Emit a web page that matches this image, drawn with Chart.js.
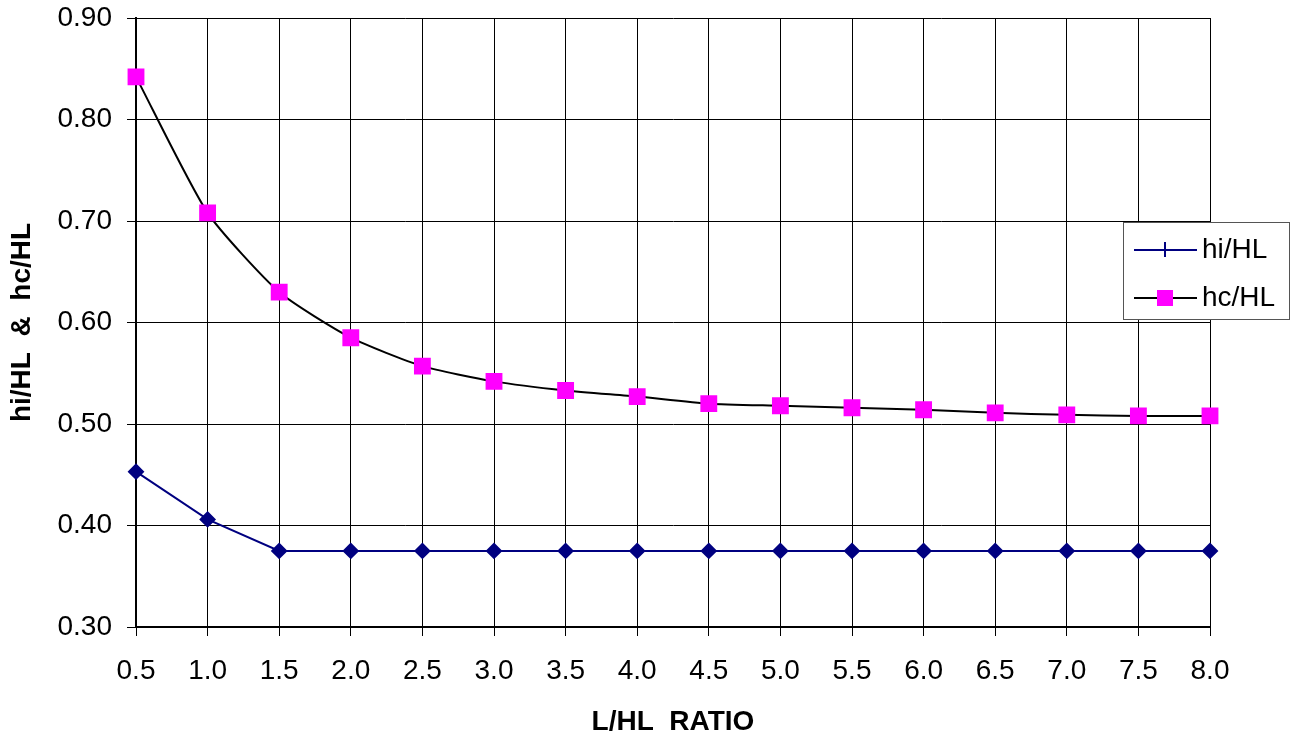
<!DOCTYPE html>
<html>
<head>
<meta charset="utf-8">
<script src="https://cdn.jsdelivr.net/npm/chart.js@4/dist/chart.umd.min.js"></script>
<style>
  body { margin: 0; background: #fff; }
  #wrap { width: 1292px; height: 736px; }
</style>
</head>
<body>
<div id="wrap"><canvas id="myChart" width="1292" height="736"></canvas></div>
<script>
// L/HL ratio
var ratios = [0.5, 1.0, 1.5, 2.0, 2.5, 3.0, 3.5, 4.0, 4.5, 5.0, 5.5, 6.0, 6.5, 7.0, 7.5, 8.0];
var hiValues = [0.453, 0.406, 0.375, 0.375, 0.375, 0.375, 0.375, 0.375, 0.375, 0.375, 0.375, 0.375, 0.375, 0.375, 0.375, 0.375];
var hcValues = [0.842, 0.708, 0.630, 0.585, 0.557, 0.542, 0.533, 0.527, 0.520, 0.518, 0.516, 0.514, 0.511, 0.509, 0.508, 0.508];
var yTicks = [0.30, 0.40, 0.50, 0.60, 0.70, 0.80, 0.90];

var font = "'Liberation Sans', Arial, sans-serif";

function toPoints(vals) {
  var pts = [];
  for (let i = 0; i < ratios.length; i++) {
    pts.push({ x: ratios[i], y: vals[i] });
  }
  return pts;
}

// legend drawn like the excel box, overlapping the right edge of the plot
const boxLegend = {
  id: "boxLegend",
  afterDraw(chart) {
    const c = chart.ctx;
    c.save();
    c.fillStyle = "#fff";
    c.fillRect(1123, 222, 167, 98);
    c.strokeStyle = "#555";
    c.lineWidth = 1;
    c.strokeRect(1123.5, 222.5, 166, 97);

    // hi/HL
    c.strokeStyle = "#000080";
    c.lineWidth = 2;
    c.beginPath();
    c.moveTo(1134, 250); c.lineTo(1197, 250);
    c.moveTo(1165, 242); c.lineTo(1165, 257);
    c.stroke();
    // hc/HL
    c.strokeStyle = "#000";
    c.beginPath();
    c.moveTo(1134, 298); c.lineTo(1197, 298);
    c.stroke();
    c.fillStyle = "#ff00ff";
    c.fillRect(1157, 290, 16, 16);

    c.fillStyle = "#000";
    c.font = "28px " + font;
    c.textBaseline = "middle";
    c.fillText("hi/HL", 1202, 250);
    c.fillText("hc/HL", 1202, 298);
    c.restore();
  }
};

const ctx = document.getElementById("myChart");

new Chart(ctx, {
  type: "line",
  data: {
    datasets: [
      {
        label: "hi/HL",
        data: toPoints(hiValues),
        borderColor: "#000080",
        backgroundColor: "#000080",
        borderWidth: 2,
        pointStyle: "rectRot",
        pointRadius: 7,
        pointHoverRadius: 7,
        tension: 0,
        clip: false,
      },
      {
        label: "hc/HL",
        data: toPoints(hcValues),
        borderColor: "#000",
        backgroundColor: "#ff00ff",
        pointBorderColor: "#ff00ff",
        borderWidth: 2,
        pointStyle: "rect",
        pointRadius: 10.5,
        pointHoverRadius: 10.5,
        tension: 0.2,
        clip: false,
      },
    ],
  },
  options: {
    responsive: false,
    animation: false,
    layout: { padding: { left: 0, top: 18, right: 82, bottom: 0 } },
    plugins: {
      legend: { display: false },
      tooltip: { enabled: false },
    },
    scales: {
      x: {
        type: "linear",
        min: 0.5,
        max: 8.0,
        afterFit: (scale) => { scale.height = 109; },
        ticks: {
          stepSize: 0.5,
          color: "#000",
          font: { family: font, size: 28 },
          padding: 18,
          maxRotation: 0,
          callback: (v) => v.toFixed(1),
        },
        grid: { color: "#000", lineWidth: 1, tickLength: 9, tickColor: "#000" },
        border: { color: "#000", width: 2 },
        title: {
          display: true,
          text: "L/HL  RATIO",
          color: "#000",
          font: { family: font, size: 28, weight: "bold", lineHeight: 1 },
          padding: { top: 0, bottom: 0 },
        },
      },
      y: {
        min: 0.3,
        max: 0.9,
        afterFit: (scale) => {
          scale.width = 136;
          scale.paddingTop = 0;
          scale.paddingBottom = 0;
        },
        afterBuildTicks: (scale) => {
          scale.ticks = yTicks.map((v) => ({ value: v }));
        },
        ticks: {
          color: "#000",
          font: { family: font, size: 28 },
          padding: 15,
          callback: (v) => v.toFixed(2),
        },
        grid: { color: "#000", lineWidth: 1, tickLength: 9, tickColor: "#000" },
        border: { color: "#000", width: 2 },
        title: {
          display: true,
          text: "hi/HL  &  hc/HL",
          color: "#000",
          font: { family: font, size: 28, weight: "bold", lineHeight: 1 },
          padding: { top: 8, bottom: 0 },
        },
      },
    },
  },
  plugins: [boxLegend],
});
</script>
</body>
</html>
